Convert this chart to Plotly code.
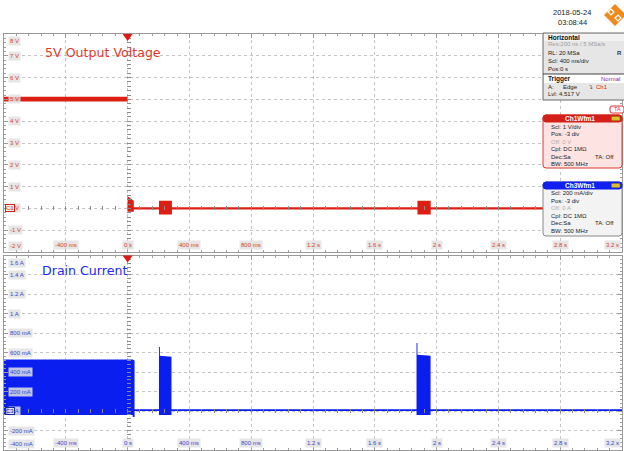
import plotly.graph_objects as go

# ---------------- data ----------------
# Ch1 (5 V output) envelope: time [s], upper / lower edge [V]
t_ch1 = [-0.8, 0.0, 0.0, 0.04, 0.04, 0.203, 0.203, 0.287, 0.287, 1.876, 1.876, 1.962, 1.962, 3.2]
v_ch1_hi = [5.12, 5.12, 0.56, 0.35, 0.05, 0.05, 0.35, 0.35, 0.05, 0.05, 0.35, 0.35, 0.05, 0.05]
v_ch1_lo = [4.90, 4.90, -0.15, -0.15, -0.05, -0.05, -0.28, -0.28, -0.05, -0.05, -0.28, -0.28, -0.05, -0.05]

# Ch3 (drain current) envelope: time [s], upper / lower edge [A]
t_ch3 = [-0.8, 0.033, 0.033, 0.045, 0.045, 0.203, 0.203, 0.209, 0.209, 0.284, 0.284,
         1.870, 1.870, 1.876, 1.876, 1.961, 1.961, 3.2]
i_ch3_hi = [0.53, 0.53, 0.53, 0.52, 0.02, 0.02, 0.66, 0.66, 0.57, 0.56, 0.02,
            0.02, 0.70, 0.70, 0.58, 0.57, 0.02, 0.02]
i_ch3_lo = [-0.04, -0.04, -0.06, -0.06, 0.0, 0.0, -0.04, -0.04, -0.04, -0.04, 0.0,
            0.0, -0.04, -0.04, -0.04, -0.04, 0.0, 0.0]

x_ticks = [-0.4, 0.0, 0.4, 0.8, 1.2, 1.6, 2.0, 2.4, 2.8, 3.2]
x_tick_labels = ["-400 ms", "0 s", "400 ms", "800 ms", "1.2 s", "1.6 s", "2 s", "2.4 s", "2.8 s", "3.2 s"]
v_ticks = [8, 7, 6, 5, 4, 3, 2, 1, 0, -1, -2]
v_tick_labels = ["8 V", "7 V", "6 V", "5 V", "4 V", "3 V", "2 V", "1 V", "0 V", "-1 V", "-2 V"]
i_ticks = [1.6, 1.4, 1.2, 1.0, 0.8, 0.6, 0.4, 0.2, 0.0, -0.2, -0.4]
i_tick_labels = ["1.6 A", "1.4 A", "1.2 A", "1 A", "800 mA", "600 mA", "400 mA", "200 mA", "0 A",
                 "-200 mA", "-400 mA"]

title_ch1 = "5V Output Voltage"
title_ch3 = "Drain Current"
timestamp = ["2018-05-24", "03:08:44"]
horiz_lines = ["Res:200 ns / 5 MSa/s", "RL: 20 MSa", "Scl: 400 ms/div", "Pos:0 s"]
ch1_lines = ["Scl: 1 V/div", "Pos: -3 div", "Off: 0 V", "Cpl: DC 1M\u03a9", "Dec:Sa", "BW: 500 MHz"]
ch3_lines = ["Scl: 200 mA/div", "Pos: -3 div", "Off: 0 A", "Cpl: DC 1M\u03a9", "Dec:Sa", "BW: 500 MHz"]

# ---------------- style ----------------
W, H = 624, 451
ML, MR, MT, MB = 4, 2, 34, 1
PW, PH = W - ML - MR, H - MT - MB
RED = "#dc1f12"
BLUE = "#0a1ef0"
RED_TXT = "#d8412f"
BLUE_TXT = "#3a48d0"
GRID = "#c4c4c4"
FRAME = "#9a9a9a"
CTICK = "#8a8a8a"
LBL_BG = "rgba(226,226,226,0.85)"
FONT = "Liberation Sans, Arial, sans-serif"
XR = [-0.8, 3.2]
VR = [-2, 8]
IR = [-0.4, 1.6]


def px(x):
    return (x - ML) / PW


def py(y):
    return (H - MB - y) / PH


top_dom = [py(252), 1.0]
bot_dom = [0.0, py(255.5)]

fig = go.Figure()

# traces: filled envelopes
fig.add_trace(go.Scatter(x=t_ch1, y=v_ch1_lo, mode="lines", line=dict(width=0, color=RED),
                         xaxis="x", yaxis="y", hoverinfo="skip", showlegend=False))
fig.add_trace(go.Scatter(x=t_ch1, y=v_ch1_hi, mode="lines", line=dict(width=0, color=RED),
                         fill="tonexty", fillcolor=RED,
                         xaxis="x", yaxis="y", hoverinfo="skip", showlegend=False))
fig.add_trace(go.Scatter(x=t_ch3, y=i_ch3_lo, mode="lines", line=dict(width=0, color=BLUE),
                         xaxis="x2", yaxis="y2", hoverinfo="skip", showlegend=False))
fig.add_trace(go.Scatter(x=t_ch3, y=i_ch3_hi, mode="lines", line=dict(width=0, color=BLUE),
                         fill="tonexty", fillcolor=BLUE,
                         xaxis="x2", yaxis="y2", hoverinfo="skip", showlegend=False))

common_x = dict(range=XR, dtick=0.4, tick0=0, showgrid=True, gridcolor=GRID, griddash="dot",
                gridwidth=1, showline=True, linecolor=FRAME, linewidth=1, mirror="ticks",
                ticks="inside", ticklen=4, tickcolor=FRAME, tickwidth=1,
                minor=dict(dtick=0.08, tick0=0, ticks="inside", ticklen=2, tickcolor=FRAME, showgrid=False),
                showticklabels=False, zeroline=False, fixedrange=True)
fig.update_layout(
    xaxis=dict(anchor="y", **common_x),
    xaxis2=dict(anchor="y2", **common_x),
    yaxis=dict(domain=top_dom, range=VR, dtick=1, tick0=0, showgrid=True, gridcolor=GRID,
               griddash="dot", showline=True, linecolor=FRAME, mirror="ticks", ticks="inside",
               ticklen=4, tickcolor=FRAME,
               minor=dict(dtick=0.2, tick0=0, ticks="inside", ticklen=2, tickcolor=FRAME, showgrid=False),
               showticklabels=False, zeroline=False, fixedrange=True),
    yaxis2=dict(domain=bot_dom, range=IR, dtick=0.2, tick0=0, showgrid=True, gridcolor=GRID,
                griddash="dot", showline=True, linecolor=FRAME, mirror="ticks", ticks="inside",
                ticklen=4, tickcolor=FRAME,
                minor=dict(dtick=0.04, tick0=0, ticks="inside", ticklen=2, tickcolor=FRAME, showgrid=False),
                showticklabels=False, zeroline=False, fixedrange=True),
)


# center-cross tick axes along the 0 s and 0 V / 0 A lines (scope graticule)
def ypos(dom, rng, val):
    return dom[0] + (val - rng[0]) / (rng[1] - rng[0]) * (dom[1] - dom[0])


tick_style = dict(showgrid=False, showline=False, zeroline=False, showticklabels=False,
                  ticks="inside", ticklen=4, tickwidth=1, tickcolor=CTICK, fixedrange=True)
fig.update_layout(
    xaxis3=dict(overlaying="x", anchor="free", position=ypos(top_dom, VR, 0) - 2 / PH, range=XR,
                dtick=0.08, tick0=0, **tick_style),
    xaxis4=dict(overlaying="x2", anchor="free", position=ypos(bot_dom, IR, 0) - 2 / PH, range=XR,
                dtick=0.08, tick0=0, **tick_style),
    yaxis3=dict(overlaying="y", anchor="free", position=px(128) - 2 / PW, range=VR,
                dtick=0.2, tick0=0, **tick_style),
    yaxis4=dict(overlaying="y2", anchor="free", position=px(128) - 2 / PW, range=IR,
                dtick=0.04, tick0=0, **tick_style),
)
for xn, yn in [("x3", "y"), ("x4", "y2"), ("x", "y3"), ("x2", "y4")]:
    fig.add_trace(go.Scatter(x=[None], y=[None], xaxis=xn, yaxis=yn, showlegend=False, hoverinfo="skip"))

ann = []
shapes = []

# y tick labels
for ax, ticks, labels, col, last in [("y", v_ticks, v_tick_labels, RED_TXT, -2),
                                      ("y2", i_ticks, i_tick_labels, BLUE_TXT, -0.4)]:
    for v, lab in zip(ticks, labels):
        ya, ys = "middle", 0
        if v == ticks[0]:
            ya, ys = "top", -2
        elif v == last:
            ya, ys = "bottom", 1
        ann.append(dict(xref="x domain" if ax == "y" else "x2 domain", yref=ax, x=0, y=v,
                        xanchor="left", yanchor=ya, xshift=4, yshift=ys, text=lab, showarrow=False,
                        font=dict(family=FONT, size=6, color=col), bgcolor=LBL_BG, borderpad=1))

# x tick labels
for xa, ya, col in [("x", "y domain", RED_TXT), ("x2", "y2 domain", BLUE_TXT)]:
    for v, lab in zip(x_ticks, x_tick_labels):
        xa_anchor = "center"
        xs = 0
        if v == x_ticks[-1]:
            xa_anchor, xs = "right", -1
        ann.append(dict(xref=xa, yref=ya, x=v, y=0, xanchor=xa_anchor, yanchor="bottom", xshift=xs,
                        yshift=2, text=lab, showarrow=False,
                        font=dict(family=FONT, size=6, color=col), bgcolor=LBL_BG, borderpad=1))

# channel ground markers
for ya, v, txt, col in [("y", 0, "C1", RED), ("y2", 0, "C3", "#1a2aa0")]:
    ann.append(dict(xref="x domain" if ya == "y" else "x2 domain", yref=ya, x=0, y=v, xanchor="left",
                    yanchor="middle", xshift=1, text=txt, showarrow=False,
                    font=dict(family=FONT, size=6, color=col), bgcolor="rgba(255,255,255,0.6)",
                    bordercolor=col, borderwidth=1, borderpad=0))

# trigger triangles
for xr_, yr_ in [("x", "y domain"), ("x2", "y2 domain")]:
    shapes.append(dict(type="path", xref=xr_, yref=yr_, xsizemode="pixel", ysizemode="pixel",
                       xanchor=0, yanchor=1, path="M-5,0 L5,0 L0,-7 Z",
                       fillcolor="#e01a10", line=dict(width=0), layer="above"))

# titles
ann.append(dict(xref="paper", yref="paper", x=px(43), y=py(53), xanchor="left", yanchor="middle",
                text=title_ch1, showarrow=False,
                font=dict(family="DejaVu Sans", size=12.6, color="#e23a2c")))
ann.append(dict(xref="paper", yref="paper", x=px(40), y=py(270.5), xanchor="left", yanchor="middle",
                text=title_ch3, showarrow=False,
                font=dict(family="DejaVu Sans", size=12.6, color="#1c2cf2")))


def T(x, y, text, size=6, color="#222", bold=False, anchor="left"):
    if bold:
        text = "<b>" + text + "</b>"
    ann.append(dict(xref="paper", yref="paper", x=px(x), y=py(y), xanchor=anchor, yanchor="middle",
                    text=text, showarrow=False, font=dict(family=FONT, size=size, color=color)))


def R(x0, y0, x1, y1, fill, line=None, lw=1):
    shapes.append(dict(type="rect", xref="paper", yref="paper", x0=px(x0), x1=px(x1), y0=py(y1), y1=py(y0),
                       fillcolor=fill, line=dict(color=line or fill, width=lw if line else 0),
                       layer="above"))


def RR(x0, y0, x1, y1, r, fill, line, lw=1):
    rx, ry = r / PW, r / PH
    a0, a1, b0, b1 = px(x0), px(x1), py(y1), py(y0)
    p = (f"M{a0+rx},{b1} L{a1-rx},{b1} Q{a1},{b1} {a1},{b1-ry} L{a1},{b0+ry} Q{a1},{b0} {a1-rx},{b0} "
         f"L{a0+rx},{b0} Q{a0},{b0} {a0},{b0+ry} L{a0},{b1-ry} Q{a0},{b1} {a0+rx},{b1} Z")
    shapes.append(dict(type="path", xref="paper", yref="paper", path=p, fillcolor=fill,
                       line=dict(color=line, width=lw), layer="above"))


# timestamp and logo
T(572, 12.5, timestamp[0], size=7.5, color="#1a1a1a", anchor="center")
T(572, 22.5, timestamp[1], size=7.5, color="#1a1a1a", anchor="center")
cx, cy, hs = 615, 15, 11
shapes.append(dict(type="path", xref="paper", yref="paper",
                   path=f"M{px(cx-hs)},{py(cy)} L{px(cx)},{py(cy-hs)} L{px(cx+hs)},{py(cy)} L{px(cx)},{py(cy+hs)} Z",
                   fillcolor="#f08a1c", line=dict(width=0), layer="above"))
for dx, dy in [(-4, -3), (3, 3)]:
    shapes.append(dict(type="path", xref="paper", yref="paper",
                       path=(f"M{px(cx+dx-3)},{py(cy+dy)} L{px(cx+dx)},{py(cy+dy-3)} "
                             f"L{px(cx+dx+3)},{py(cy+dy)} L{px(cx+dx)},{py(cy+dy+3)} Z"),
                       fillcolor="rgba(0,0,0,0)", line=dict(color="white", width=1.2), layer="above"))

# Horizontal / Trigger panel
R(543, 33, 626, 100, "#e6e6e6", "#6a6a6a", 1)
R(544, 34, 626, 41, "#f2f2f2")
T(546, 37.5, "Horizontal", size=6.5, color="#111", bold=True)
T(546, 44.5, horiz_lines[0], color="#a0a0a0")
T(546, 52.5, horiz_lines[1])
T(615, 52.5, "R", color="#333", bold=True)
T(546, 60.5, horiz_lines[2])
T(546, 68.5, horiz_lines[3])
R(544, 74, 626, 83, "#ffffff")
shapes.append(dict(type="line", xref="paper", yref="paper", x0=px(543), x1=px(626), y0=py(74), y1=py(74),
                   line=dict(color="#444", width=1), layer="above"))
T(546, 78.5, "Trigger", size=6.5, color="#111", bold=True)
T(599, 78.5, "Normal", color="#8a2aa0")
T(546, 86.8, "A:")
T(561, 86.8, "Edge")
T(586, 86.8, "\u21b4", color="#555")
T(594, 86.8, "Ch1", color="#e02010")
T(546, 94.3, "Lvl: 4.517 V")

# TA tag
RR(610, 106, 624, 113, 2, "#ffffff", "#e03030", 1)
T(617, 109.5, "TA", size=5.5, color="#e03030", anchor="center")

# Ch1 box
RR(543, 115, 622, 168, 3, "#fde4e2", "#e03a30", 1)
RR(543, 115, 622, 122, 3, "#d42018", "#d42018", 1)
T(580, 118.5, "Ch1Wfm1", size=6.5, color="#ffffff", bold=True, anchor="center")
RR(611.5, 116.5, 620, 120.5, 1, "#d8c030", "#8a7a10", 0.5)
ys = [126.7, 134.0, 141.7, 149.3, 156.7, 163.7]
for i, line in enumerate(ch1_lines):
    T(549, ys[i], line, color="#b8a8a8" if i == 2 else "#222")
T(593, ys[4], "TA: Off")

# Ch3 box
RR(543, 182, 622, 236, 3, "#f3f3f3", "#8a8a8a", 1)
RR(543, 182, 622, 189, 3, "#1020f0", "#1020f0", 1)
T(580, 185.3, "Ch3Wfm1", size=6.5, color="#ffffff", bold=True, anchor="center")
RR(611.5, 183.5, 620, 187.5, 1, "#d8c030", "#8a7a10", 0.5)
ys = [193.3, 200.7, 208.3, 215.7, 223.3, 230.7]
for i, line in enumerate(ch3_lines):
    T(549, ys[i], line, color="#b0b0b0" if i == 2 else "#222")
T(593, ys[4], "TA: Off")

fig.update_layout(
    width=W, height=H, margin=dict(l=ML, r=MR, t=MT, b=MB),
    paper_bgcolor="white", plot_bgcolor="white", showlegend=False,
    annotations=ann, shapes=shapes, font=dict(family=FONT),
)

fig.write_html("out.html", config={"displayModeBar": False, "staticPlot": True},
               post_script="document.body.style.margin='0';document.body.style.overflow='hidden';")
